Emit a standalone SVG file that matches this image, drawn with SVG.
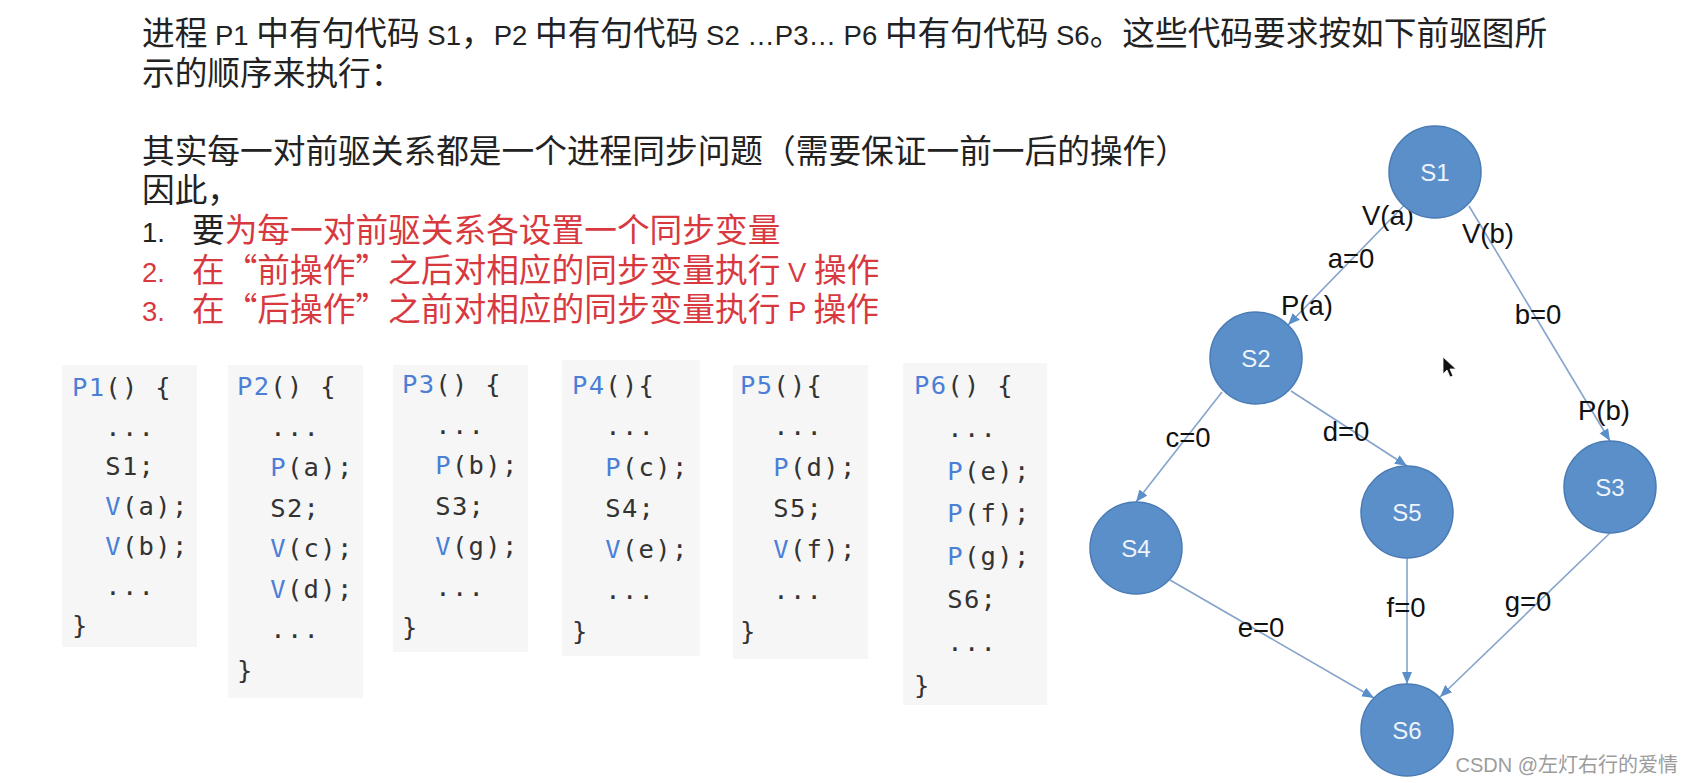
<svg xmlns="http://www.w3.org/2000/svg" width="1693" height="783" viewBox="0 0 1693 783">
<defs>
<style>
.t{font-family:"Noto Sans CJK SC","Liberation Sans",sans-serif;font-size:32.7px;fill:#222;white-space:pre}
.l{font-family:"Liberation Sans",Arial,sans-serif;font-size:27.5px}
.r{fill:#d8393f}
.code{font-family:"DejaVu Sans Mono",monospace;font-size:25.5px;letter-spacing:1.3px;fill:#333;white-space:pre}
.kw{fill:#4b7fd6}
.box{fill:#f6f6f6}
.node circle{fill:#5a8fca;stroke:#4a7bb4;stroke-width:1.5}
.node text{font-family:"Liberation Sans",Arial,sans-serif;font-size:24px;fill:#eef4fb;text-anchor:middle}
.edge{stroke:#86a3cb;stroke-width:1.6;fill:none;marker-end:url(#arr)}
.el{font-family:"Liberation Sans",Arial,sans-serif;font-size:27.5px;fill:#111;text-anchor:middle}
.wm{font-family:"Liberation Sans","Noto Sans CJK SC",sans-serif;font-size:20px;fill:#9c9c9c;text-anchor:end}
</style>
<marker id="arr" markerUnits="userSpaceOnUse" markerWidth="14" markerHeight="12" refX="12" refY="5" orient="auto">
<path d="M0,0 L12,5 L0,10 z" fill="#5b8fca"/>
</marker>
</defs>
<rect width="1693" height="783" fill="#ffffff"/>

<g id="intro">
<text class="t" x="142" y="45">进程<tspan class="l"> P1 </tspan>中有句代码<tspan class="l"> S1</tspan>，<tspan class="l">P2 </tspan>中有句代码<tspan class="l"> S2 …P3… P6 </tspan>中有句代码<tspan class="l"> S6</tspan>。这些代码要求按如下前驱图所</text>
<text class="t" x="142" y="84.5">示的顺序来执行：</text>
<text class="t" x="142" y="163">其实每一对前驱关系都是一个进程同步问题（需要保证一前一后的操作）</text>
<text class="t" x="142" y="202">因此，</text>
<text class="t" y="242"><tspan class="l" x="142">1.</tspan><tspan x="192">要</tspan><tspan class="r">为每一对前驱关系各设置一个同步变量</tspan></text>
<text class="t r" y="281.5"><tspan class="l" x="142">2.</tspan><tspan x="192">在“前操作”之后对相应的同步变量执行</tspan><tspan class="l"> V </tspan>操作</text>
<text class="t r" y="321"><tspan class="l" x="142">3.</tspan><tspan x="192">在“后操作”之前对相应的同步变量执行</tspan><tspan class="l"> P </tspan>操作</text>
</g>

<g id="code-P1">
<rect class="box" x="62" y="365" width="135" height="282"/>
<text class="code" x="72" y="396"><tspan class="kw">P1</tspan>() {</text>
<text class="code" x="72" y="435.7">  ...</text>
<text class="code" x="72" y="475.4">  S1;</text>
<text class="code" x="72" y="515.1">  <tspan class="kw">V</tspan>(a);</text>
<text class="code" x="72" y="554.8">  <tspan class="kw">V</tspan>(b);</text>
<text class="code" x="72" y="594.5">  ...</text>
<text class="code" x="72" y="634.2">}</text>
</g>

<g id="code-P2">
<rect class="box" x="228" y="365" width="135" height="333"/>
<text class="code" x="237" y="395"><tspan class="kw">P2</tspan>() {</text>
<text class="code" x="237" y="435.5">  ...</text>
<text class="code" x="237" y="476">  <tspan class="kw">P</tspan>(a);</text>
<text class="code" x="237" y="516.5">  S2;</text>
<text class="code" x="237" y="557">  <tspan class="kw">V</tspan>(c);</text>
<text class="code" x="237" y="597.5">  <tspan class="kw">V</tspan>(d);</text>
<text class="code" x="237" y="638">  ...</text>
<text class="code" x="237" y="678.5">}</text>
</g>

<g id="code-P3">
<rect class="box" x="393" y="365" width="135" height="287"/>
<text class="code" x="402" y="393"><tspan class="kw">P3</tspan>() {</text>
<text class="code" x="402" y="433.5">  ...</text>
<text class="code" x="402" y="474">  <tspan class="kw">P</tspan>(b);</text>
<text class="code" x="402" y="514.5">  S3;</text>
<text class="code" x="402" y="555">  <tspan class="kw">V</tspan>(g);</text>
<text class="code" x="402" y="595.5">  ...</text>
<text class="code" x="402" y="636">}</text>
</g>

<g id="code-P4">
<rect class="box" x="562" y="360" width="138" height="296"/>
<text class="code" x="572" y="394"><tspan class="kw">P4</tspan>(){</text>
<text class="code" x="572" y="435">  ...</text>
<text class="code" x="572" y="476">  <tspan class="kw">P</tspan>(c);</text>
<text class="code" x="572" y="517">  S4;</text>
<text class="code" x="572" y="558">  <tspan class="kw">V</tspan>(e);</text>
<text class="code" x="572" y="599">  ...</text>
<text class="code" x="572" y="640">}</text>
</g>

<g id="code-P5">
<rect class="box" x="733" y="365" width="135" height="294"/>
<text class="code" x="740" y="394"><tspan class="kw">P5</tspan>(){</text>
<text class="code" x="740" y="435">  ...</text>
<text class="code" x="740" y="476">  <tspan class="kw">P</tspan>(d);</text>
<text class="code" x="740" y="517">  S5;</text>
<text class="code" x="740" y="558">  <tspan class="kw">V</tspan>(f);</text>
<text class="code" x="740" y="599">  ...</text>
<text class="code" x="740" y="640">}</text>
</g>

<g id="code-P6">
<rect class="box" x="903" y="363" width="144" height="342"/>
<text class="code" x="914" y="394"><tspan class="kw">P6</tspan>() {</text>
<text class="code" x="914" y="436.8">  ...</text>
<text class="code" x="914" y="479.6">  <tspan class="kw">P</tspan>(e);</text>
<text class="code" x="914" y="522.4">  <tspan class="kw">P</tspan>(f);</text>
<text class="code" x="914" y="565.2">  <tspan class="kw">P</tspan>(g);</text>
<text class="code" x="914" y="608">  S6;</text>
<text class="code" x="914" y="650.8">  ...</text>
<text class="code" x="914" y="693.6">}</text>
</g>

<g id="connectors">
<line class="edge" x1="1403.5" y1="206" x2="1288" y2="325"/>
<line class="edge" x1="1469" y1="206" x2="1610" y2="441"/>
<line class="edge" x1="1222" y1="392" x2="1136" y2="502"/>
<line class="edge" x1="1291" y1="391" x2="1407" y2="466"/>
<line class="edge" x1="1170" y1="580" x2="1374" y2="698"/>
<line class="edge" x1="1407" y1="558" x2="1407" y2="684"/>
<line class="edge" x1="1610" y1="533" x2="1440" y2="697"/>
<text class="el" x="1388" y="225">V(a)</text>
<text class="el" x="1488" y="243">V(b)</text>
<text class="el" x="1351" y="268">a=0</text>
<text class="el" x="1307" y="315">P(a)</text>
<text class="el" x="1538" y="324">b=0</text>
<text class="el" x="1604" y="420">P(b)</text>
<text class="el" x="1188" y="447">c=0</text>
<text class="el" x="1346" y="441">d=0</text>
<text class="el" x="1261" y="637">e=0</text>
<text class="el" x="1406" y="617">f=0</text>
<text class="el" x="1528" y="611">g=0</text>
</g>

<g id="S1" class="node"><circle cx="1435" cy="172" r="46"/><text x="1435" y="181">S1</text></g>
<g id="S2" class="node"><circle cx="1256" cy="358" r="46"/><text x="1256" y="367">S2</text></g>
<g id="S3" class="node"><circle cx="1610" cy="487" r="46"/><text x="1610" y="496">S3</text></g>
<g id="S4" class="node"><circle cx="1136" cy="548" r="46"/><text x="1136" y="557">S4</text></g>
<g id="S5" class="node"><circle cx="1407" cy="512" r="46"/><text x="1407" y="521">S5</text></g>
<g id="S6" class="node"><circle cx="1407" cy="730" r="46"/><text x="1407" y="739">S6</text></g>

<polygon points="1443,357 1443,374 1447,370 1450,377 1453,376 1450,369 1456,369" fill="#111" stroke="#fff" stroke-width="0.8"/>

<text class="wm" x="1678" y="772">CSDN @左灯右行的爱情</text>
</svg>
